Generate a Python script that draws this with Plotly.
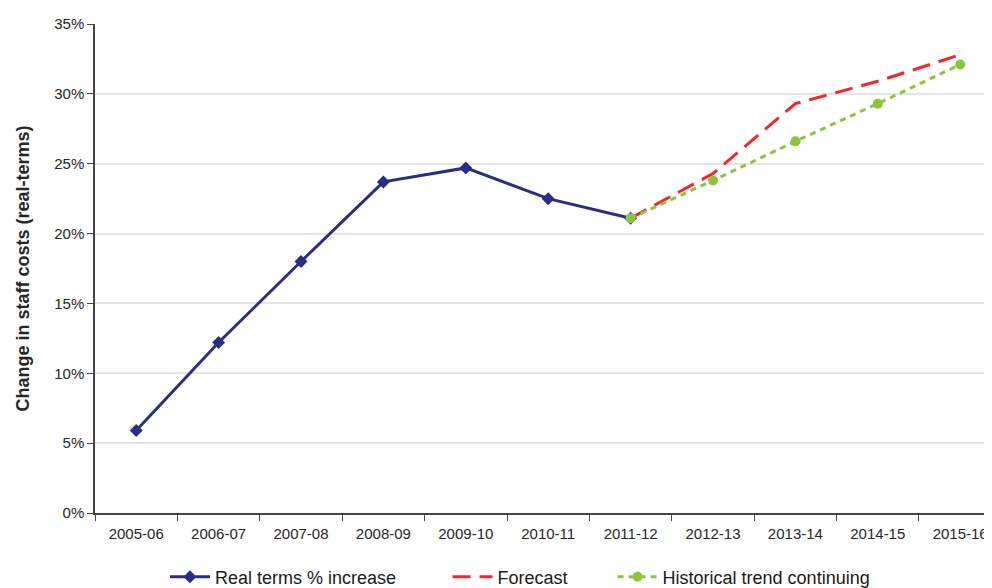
import plotly.graph_objects as go

years = ["2005-06", "2006-07", "2007-08", "2008-09", "2009-10", "2010-11",
         "2011-12", "2012-13", "2013-14", "2014-15", "2015-16"]
real_years = years[:7]
real_vals = [5.9, 12.2, 18.0, 23.7, 24.7, 22.5, 21.1]
fc_years = years[6:]
forecast_vals = [21.1, 24.3, 29.3, 30.9, 32.8]
trend_vals = [21.1, 23.8, 26.6, 29.3, 32.1]
yticks = [0, 5, 10, 15, 20, 25, 30, 35]

fig = go.Figure()
fig.add_trace(go.Scatter(x=real_years, y=real_vals, name="Real terms % increase",
                         mode="lines+markers", legend="legend",
                         line=dict(color="#2A2D86", width=3),
                         marker=dict(symbol="diamond", size=10, color="#2A2D86")))
fig.add_trace(go.Scatter(x=fc_years, y=forecast_vals, name="Forecast",
                         mode="lines", legend="legend2",
                         line=dict(color="#F5262B", width=3, dash="18px,9px")))
fig.add_trace(go.Scatter(x=fc_years, y=trend_vals, name="Historical trend continuing",
                         mode="lines+markers", legend="legend3",
                         line=dict(color="#8CC43C", width=3, dash="6px,5px"),
                         marker=dict(symbol="circle", size=10, color="#8CC43C")))

font_fam = "Liberation Sans, Arial, sans-serif"
leg_common = dict(orientation="h", y=-0.131, yanchor="middle", xanchor="left",
                  font=dict(size=18, color="#1a1a1a"), itemwidth=40,
                  bgcolor="rgba(0,0,0,0)")
# page body has an 8px margin, so the figure is sized/offset to compensate
fig.update_layout(
    width=984, height=588,
    margin=dict(l=87, r=0, t=16, b=83),
    paper_bgcolor="white", plot_bgcolor="white",
    font=dict(family=font_fam, size=15, color="#262626"),
    showlegend=True,
    legend=dict(x=0.078, **leg_common),
    legend2=dict(x=0.393, **leg_common),
    legend3=dict(x=0.577, **leg_common),
    xaxis=dict(type="category", categoryorder="array", categoryarray=years,
               range=[-0.5, 10.386], showgrid=False, automargin=False,
               showline=True, linecolor="#444", linewidth=1.5,
               ticks="outside", tickson="boundaries", ticklen=6, tickcolor="#444",
               ticklabelstandoff=6,
               tickfont=dict(size=15)),
    yaxis=dict(range=[0, 35], tickvals=yticks, automargin=False,
               ticktext=[f"{v}%" for v in yticks],
               showgrid=True, gridcolor="#E4E4E4", gridwidth=1.5,
               showline=True, linecolor="#444", linewidth=1.5,
               ticks="outside", ticklen=6, tickcolor="#444",
               zeroline=False,
               title=dict(text="<b>Change in staff costs (real-terms)</b>",
                          font=dict(size=18), standoff=20),
               tickfont=dict(size=15)),
)
fig.write_html("out.html")
